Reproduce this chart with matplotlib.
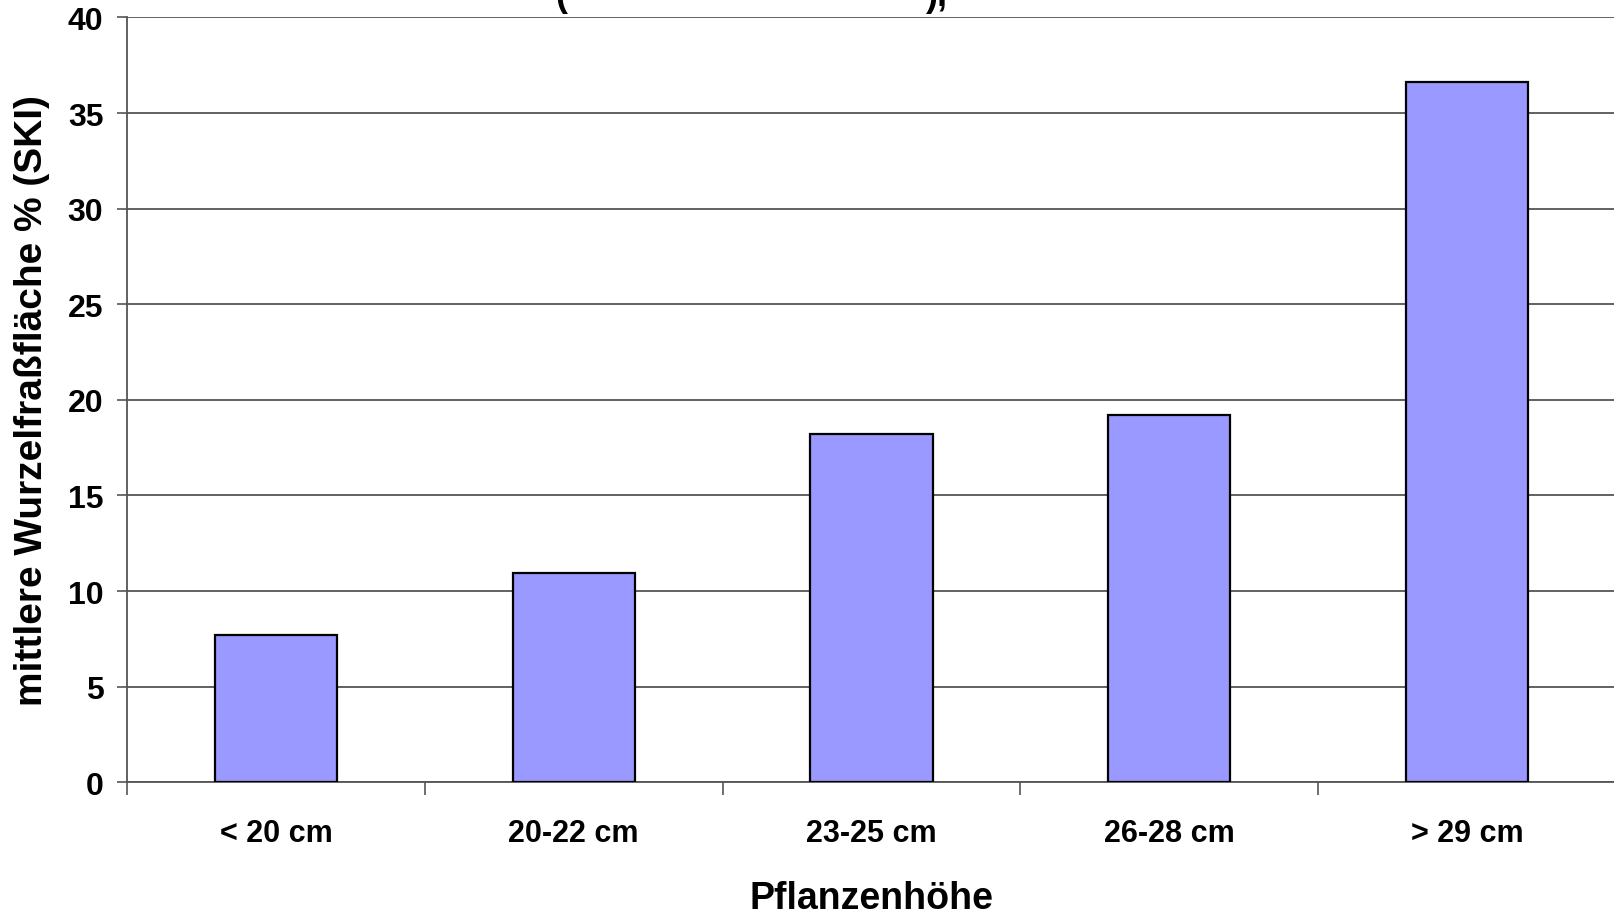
import matplotlib.pyplot as plt

# Mittlere Wurzelfraßfläche je Pflanzenhöhen-Klasse
KLASSEN = ["< 20 cm", "20-22 cm", "23-25 cm", "26-28 cm", "> 29 cm"]
WURZELFRASS = [7.7, 10.95, 18.2, 19.2, 36.6]
Y_TICKS = [0, 5, 10, 15, 20, 25, 30, 35, 40]

BAR_COLOR = "#9999FF"

plt.rcParams["font.family"] = ["Liberation Sans", "DejaVu Sans"]
plt.rcParams["font.weight"] = "bold"

fig = plt.figure(figsize=(16.14, 9.12), dpi=100)
ax = fig.add_axes([127 / 1614, 1 - 783.3 / 912, 1489 / 1614, (783.3 - 18.4) / 912])

x = list(range(len(KLASSEN)))
ax.bar(x, WURZELFRASS, width=0.41, color=BAR_COLOR, edgecolor="black",
       linewidth=1.6, zorder=3)

ax.set_xlim(-0.5, len(KLASSEN) - 0.5)
ax.set_ylim(0, 40)
ax.set_yticks(Y_TICKS)
ax.set_yticklabels([str(v) for v in Y_TICKS], fontsize=23, fontweight="bold")

# Kategorie-Trennstriche unten, Beschriftung mittig unter den Balken
ax.set_xticks([i - 0.5 for i in range(len(KLASSEN) + 1)])
ax.set_xticklabels([])
ax.set_xticks(x, minor=True)
ax.set_xticklabels(KLASSEN, minor=True, fontsize=22, fontweight="bold")
ax.tick_params(axis="x", which="major", direction="out", length=9, width=1.2,
               color="#555555")
ax.tick_params(axis="x", which="minor", length=0, pad=26)
ax.tick_params(axis="y", direction="out", length=7, width=1.2, color="#555555",
               pad=10)

ax.yaxis.grid(True, color="#555555", linewidth=1.3, zorder=0)
ax.set_axisbelow(True)

for side in ["top", "right"]:
    ax.spines[side].set_visible(False)
ax.spines["left"].set_color("#555555")
ax.spines["left"].set_linewidth(1.3)
ax.spines["bottom"].set_color("#555555")
ax.spines["bottom"].set_linewidth(1.3)

ax.set_xlabel("Pflanzenhöhe", fontsize=27, fontweight="bold", labelpad=23)
ax.set_ylabel("mittlere Wurzelfraßfläche % (SKI)", fontsize=28,
              fontweight="bold", labelpad=13)

# Titelzeile ragt oben aus dem Bild
fig.text(561 / 1614, 1 - 6 / 912, "(", fontsize=26, fontweight="bold",
         ha="center", va="baseline")
fig.text(937 / 1614, 1 - 6 / 912, "),", fontsize=26, fontweight="bold",
         ha="center", va="baseline")

fig.savefig("out.png", dpi=100)
